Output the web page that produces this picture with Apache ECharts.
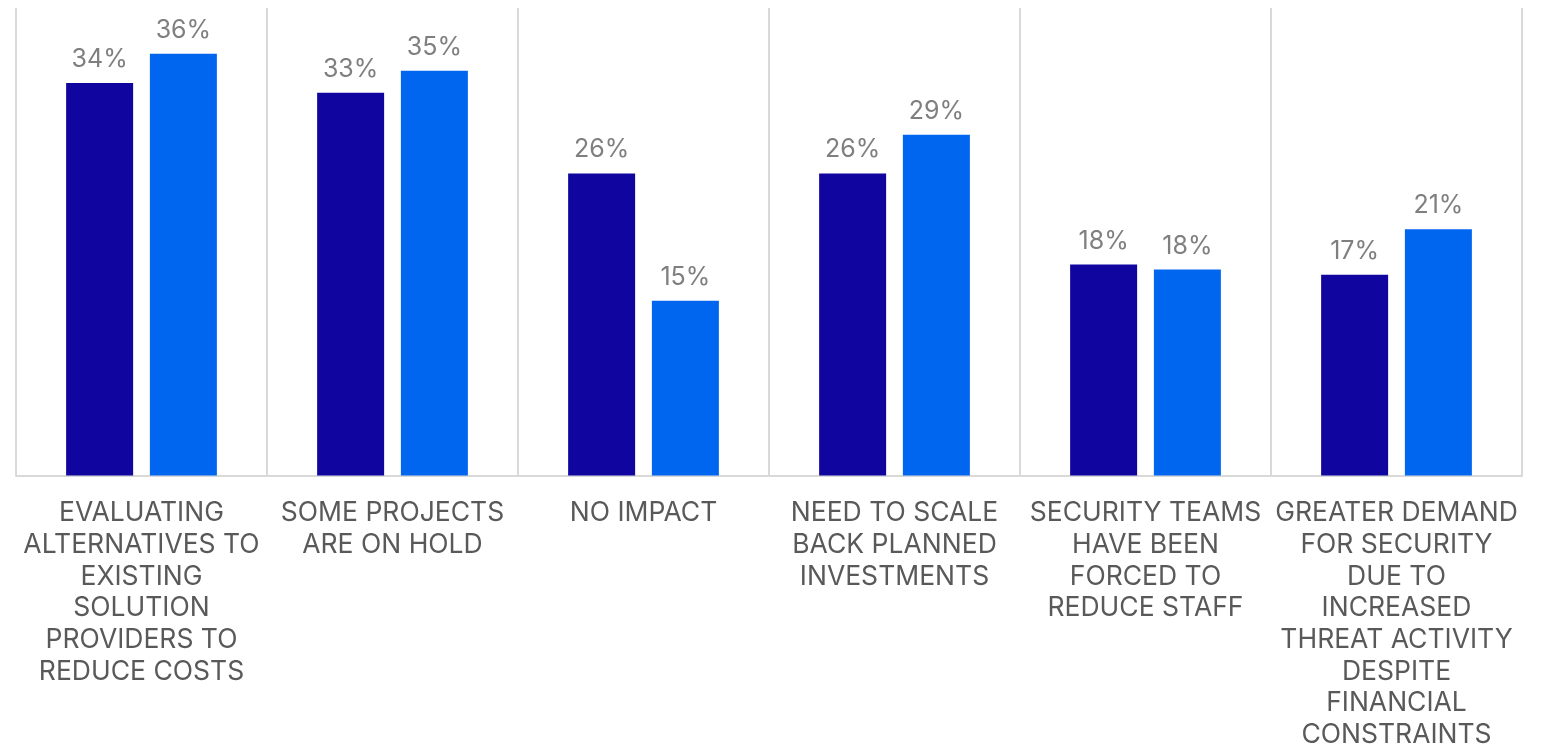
<!DOCTYPE html>
<html>
<head>
<meta charset="utf-8">
<title>Impact of economic conditions on security</title>
<script src="https://cdn.jsdelivr.net/npm/echarts@6/dist/echarts.min.js"></script>
<style>
  html, body { margin: 0; padding: 0; background: #ffffff; overflow: hidden; }
  #chart { width: 1542px; height: 751px; }
</style>
</head>
<body>
<div id="chart"></div>
<script>
// Category labels, one entry per wrapped line
const categoryLines = [
  ['EVALUATING', 'ALTERNATIVES TO', 'EXISTING', 'SOLUTION', 'PROVIDERS TO', 'REDUCE COSTS'],
  ['SOME PROJECTS', 'ARE ON HOLD'],
  ['NO IMPACT'],
  ['NEED TO SCALE', 'BACK PLANNED', 'INVESTMENTS'],
  ['SECURITY TEAMS', 'HAVE BEEN', 'FORCED TO', 'REDUCE STAFF'],
  ['GREATER DEMAND', 'FOR SECURITY', 'DUE TO', 'INCREASED', 'THREAT ACTIVITY', 'DESPITE', 'FINANCIAL', 'CONSTRAINTS']
];

// Percent of respondents, two survey groups
const seriesA = [33.8, 32.95, 26.0, 26.0, 18.16, 17.28];
const seriesB = [36.3, 34.85, 15.03, 29.33, 17.73, 21.2];

const categories = categoryLines.map(l => l.join('\n'));

const chart = echarts.init(document.getElementById('chart'), null, { renderer: 'canvas', width: 1542, height: 751 });

const valueLabel = {
  show: true,
  position: 'top',
  distance: 11,
  color: '#7f7f7f',
  fontFamily: 'Inter',
  fontSize: 25,
  formatter: p => Math.round(p.value) + '%'
};

chart.setOption({
  animation: false,
  backgroundColor: '#ffffff',
  grid: { left: 16, right: 20, top: 8, bottom: 271.5, containLabel: false },
  xAxis: {
    type: 'category',
    data: categories,
    boundaryGap: true,
    axisLine: { show: true, lineStyle: { color: '#d9d9d9', width: 2 } },
    axisTick: { show: false },
    splitLine: { show: true, interval: 0, lineStyle: { color: '#d9d9d9', width: 2 } },
    axisLabel: {
      interval: 0,
      margin: 22,
      color: '#595959',
      fontFamily: 'Inter',
      fontSize: 26.5,
      lineHeight: 31.7,
      align: 'center'
    }
  },
  yAxis: {
    type: 'value',
    min: 0,
    max: 40.25,
    show: false,
    splitLine: { show: false }
  },
  series: [
    {
      type: 'bar',
      data: seriesA,
      barWidth: 67,
      barGap: '25%',
      itemStyle: { color: '#10069f' },
      label: valueLabel
    },
    {
      type: 'bar',
      data: seriesB,
      barWidth: 67,
      barGap: '25%',
      itemStyle: { color: '#0066f0' },
      label: valueLabel
    }
  ]
});
</script>
</body>
</html>
